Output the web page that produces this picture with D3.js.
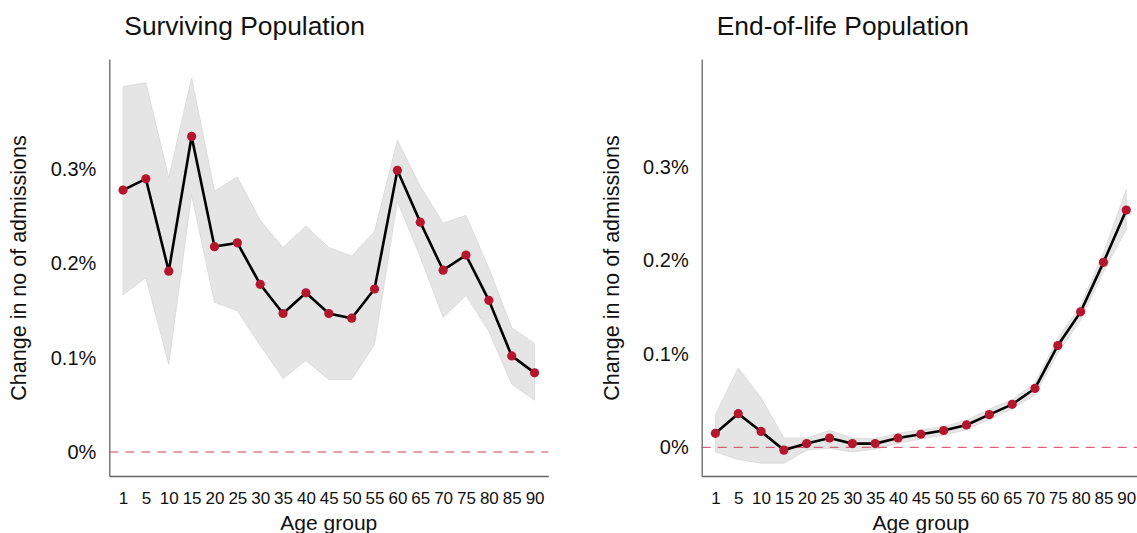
<!DOCTYPE html>
<html>
<head>
<meta charset="utf-8">
<script src="https://cdn.jsdelivr.net/npm/d3@7"></script>
<style>
body{margin:0;background:#fff;}
text{font-family:"Liberation Sans",Arial,sans-serif;fill:#111;}
</style>
</head>
<body>
<svg id="chart" width="1137" height="533"></svg>
<script>
// age groups on the x axis
var ageGroups = ['1','5','10','15','20','25','30','35','40','45','50','55','60','65','70','75','80','85','90'];
var yTicks = [0, 0.1, 0.2, 0.3];

// Surviving population (% change), estimate and interval
var survEst = [0.278,0.290,0.192,0.335,0.218,0.222,0.178,0.147,0.169,0.147,0.142,0.173,0.299,0.244,0.193,0.209,0.161,0.102,0.084];
var survLow = [0.167,0.185,0.093,0.273,0.159,0.150,0.113,0.078,0.097,0.077,0.077,0.114,0.266,0.207,0.143,0.166,0.128,0.072,0.055];
var survHigh = [0.388,0.392,0.291,0.397,0.277,0.292,0.246,0.217,0.240,0.217,0.208,0.234,0.331,0.282,0.243,0.251,0.195,0.132,0.115];

// End-of-life population
var eolEst = [0.015,0.036,0.017,-0.003,0.004,0.010,0.004,0.004,0.010,0.014,0.018,0.024,0.035,0.046,0.063,0.109,0.145,0.198,0.254];
var eolLow = [-0.005,-0.013,-0.017,-0.017,-0.003,-0.001,-0.005,-0.002,0.004,0.009,0.013,0.019,0.030,0.041,0.056,0.101,0.136,0.188,0.233];
var eolHigh = [0.035,0.085,0.053,0.010,0.010,0.018,0.010,0.009,0.015,0.019,0.022,0.029,0.041,0.051,0.069,0.117,0.152,0.208,0.276];

var svg = d3.select('#chart');

function drawPanel(p){
	var x = d3.scalePoint().domain(ageGroups).range([p.left, p.right]).padding(0.6);
	var y = d3.scaleLinear().domain(p.domain).range([p.bottom, p.top]);
	var g = svg.append('g');

	var rows = ageGroups.map(function(a,i){return {age:a, est:p.est[i], lo:p.lo[i], hi:p.hi[i]};});

	// confidence ribbon
	g.append('path').datum(rows)
		.attr('d', d3.area().x(function(d){return x(d.age);}).y0(function(d){return y(d.lo);}).y1(function(d){return y(d.hi);}))
		.attr('fill','#e5e5e5').attr('stroke','#d8d8d8').attr('stroke-width',0.8);

	// zero reference
	g.append('line')
		.attr('x1',p.left).attr('x2',p.right).attr('y1',y(0)).attr('y2',y(0))
		.attr('stroke','#cf4257').attr('stroke-width',1).attr('stroke-dasharray','9,7');

	g.append('path').datum(rows)
		.attr('d', d3.line().x(function(d){return x(d.age);}).y(function(d){return y(d.est);}))
		.attr('fill','none').attr('stroke','#000').attr('stroke-width',2.6);

	g.selectAll('circle').data(rows).enter().append('circle')
		.attr('cx',function(d){return x(d.age);}).attr('cy',function(d){return y(d.est);})
		.attr('r',4.6).attr('fill','#b5152d');

	// axes
	var ya = g.append('g').attr('transform','translate('+p.left+',0)')
		.call(d3.axisLeft(y).tickValues(yTicks).tickSize(0).tickPadding(13).tickFormat(function(v){return d3.format('.1~f')(v)+'%';}));
	ya.selectAll('text').style('font-size','20px');
	ya.select('.domain').attr('stroke','#666').attr('stroke-width',1.3);

	var xa = g.append('g').attr('transform','translate(0,'+p.bottom+')')
		.call(d3.axisBottom(x).tickSize(0).tickPadding(16));
	xa.selectAll('text').style('font-size','17px');
	xa.select('.domain').attr('stroke','#666').attr('stroke-width',1.3);

	// titles
	g.append('text').attr('x',p.left+15).attr('y',34.5).style('font-size','26.4px').text(p.title);
	g.append('text').attr('x',(p.left+p.right)/2).attr('y',530).attr('text-anchor','middle')
		.style('font-size','21px').text('Age group');
	g.append('text').attr('transform','translate('+(p.left-83)+',268) rotate(-90)')
		.attr('text-anchor','middle').style('font-size','21.5px').text('Change in no of admissions');
}

drawPanel({title:'Surviving Population', left:109.3, right:548.3, top:59, bottom:476,
	domain:[-0.0255,0.4172], est:survEst, lo:survLow, hi:survHigh});
drawPanel({title:'End-of-life Population', left:701.7, right:1140, top:59, bottom:476,
	domain:[-0.0307,0.4157], est:eolEst, lo:eolLow, hi:eolHigh});
</script>
</body>
</html>
